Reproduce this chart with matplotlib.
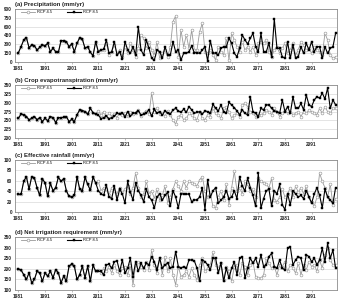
import matplotlib
matplotlib.use("Agg")
import matplotlib.pyplot as plt
import numpy as np

plt.rcParams['font.family'] = ['Liberation Sans', 'DejaVu Sans']

years = list(range(1981, 2101))
xtick_years = [1981, 1991, 2001, 2011, 2021, 2031, 2041, 2051, 2061, 2071, 2081, 2091]

# (a) Precipitation (mm/yr)
hist_precip = [158, 260, 374, 413, 243, 289, 277, 204, 249, 289, 277, 317, 175, 232, 175,
               164, 362, 362, 345, 260, 306, 175, 317, 413, 385, 232, 260, 164, 108, 345]
rcp45_precip = [147, 204, 204, 317, 119, 175, 289, 147, 204, 91, 260, 147, 317, 204, 91,
                232, 458, 402, 232, 345, 204, 119, 345, 62, 147, 204, 91, 260, 685, 780,
                91, 543, 260, 458, 232, 543, 204, 204, 515, 657, 175, 147, 204, 119, 34,
                260, 175, 119, 402, 34, 487, 374, 260, 175, 345, 204, 260, 175, 260, 119,
                317, 345, 317, 374, 175, 91, 204, 260, 147, 232, 317, 147, 204, 317, 119,
                204, 345, 289, 204, 232, 147, 260, 204, 175, 119, 487, 374, 119, 62, 91]
rcp85_precip = [175, 204, 215, 374, 147, 175, 345, 119, 175, 45, 345, 204, 147, 260, 119,
                600, 204, 119, 374, 232, 62, 34, 204, 175, 62, 260, 119, 119, 345, 175,
                204, 34, 147, 147, 175, 272, 158, 158, 147, 204, 260, 17, 362, 158, 147,
                119, 232, 260, 260, 402, 317, 147, 91, 232, 458, 374, 306, 402, 487, 260,
                175, 487, 175, 175, 317, 91, 730, 232, 232, 91, 62, 345, 62, 289, 62,
                91, 260, 147, 317, 204, 345, 175, 260, 260, 62, 260, 147, 232, 260, 487]

# (b) Crop evapotranspiration (mm/yr)
hist_et = [256, 268, 266, 261, 252, 256, 261, 252, 258, 247, 256, 249, 261, 258, 244,
           258, 258, 259, 261, 247, 253, 247, 266, 280, 278, 275, 268, 284, 272, 268]
rcp45_et = [278, 265, 275, 260, 270, 262, 268, 258, 272, 265, 270, 262, 275, 268, 272,
            280, 262, 270, 278, 268, 328, 275, 285, 268, 272, 262, 278, 266, 250, 240,
            261, 266, 252, 256, 270, 266, 256, 252, 275, 256, 252, 266, 261, 284, 270,
            266, 256, 284, 289, 275, 256, 266, 270, 261, 294, 298, 289, 275, 270, 261,
            266, 266, 270, 280, 275, 266, 284, 275, 261, 270, 280, 270, 275, 266, 270,
            275, 261, 275, 270, 280, 275, 270, 266, 284, 270, 289, 275, 270, 284, 284]
rcp85_et = [265, 255, 258, 262, 255, 258, 262, 270, 268, 272, 260, 275, 262, 270, 272,
            278, 265, 268, 272, 280, 262, 282, 270, 275, 265, 278, 270, 268, 280, 284,
            277, 273, 282, 273, 289, 280, 270, 273, 275, 268, 277, 275, 270, 296, 284,
            277, 294, 275, 270, 301, 294, 286, 277, 266, 280, 270, 266, 317, 275, 270,
            261, 284, 280, 294, 294, 284, 277, 275, 270, 308, 275, 289, 270, 317, 284,
            284, 298, 280, 322, 294, 289, 308, 317, 313, 327, 311, 341, 284, 308, 294]

# (c) Effective rainfall (mm/yr)
hist_er = [34, 34, 59, 68, 44, 68, 65, 47, 32, 64, 56, 30, 55, 41, 47,
           67, 59, 64, 41, 30, 29, 32, 68, 44, 41, 67, 53, 42, 67, 56]
rcp45_er = [59, 41, 47, 44, 32, 47, 41, 35, 47, 38, 44, 50, 35, 47, 75,
            47, 29, 35, 59, 35, 41, 26, 44, 23, 32, 50, 17, 29, 44, 59,
            50, 41, 59, 47, 59, 56, 53, 50, 62, 68, 41, 29, 35, 11, 8,
            29, 41, 23, 53, 14, 47, 78, 41, 47, 35, 59, 53, 41, 44, 29,
            65, 59, 56, 53, 47, 65, 23, 20, 29, 44, 29, 35, 47, 29, 50,
            38, 47, 35, 50, 29, 20, 11, 29, 75, 59, 47, 29, 53, 14, 26]
rcp85_er = [41, 35, 32, 52, 29, 26, 50, 23, 44, 35, 17, 59, 38, 23, 56,
            41, 32, 20, 44, 29, 23, 8, 29, 35, 23, 32, 38, 11, 41, 29,
            8, 35, 35, 35, 34, 20, 23, 24, 29, 47, 5, 62, 29, 41, 47,
            17, 23, 29, 41, 26, 29, 41, 26, 68, 50, 41, 65, 47, 32, 11,
            75, 8, 26, 41, 44, 11, 41, 35, 53, 14, 5, 35, 14, 41, 35,
            29, 32, 26, 41, 29, 17, 35, 47, 32, 8, 44, 29, 23, 17, 47]

# (d) Net irrigation requirement (mm/yr)
hist_nir = [200, 194, 173, 150, 181, 134, 150, 189, 181, 142, 181, 166, 189, 158, 197,
            181, 134, 166, 142, 212, 223, 212, 150, 173, 212, 158, 212, 142, 217, 189]
rcp45_nir = [195, 180, 203, 188, 211, 180, 219, 188, 172, 203, 211, 172, 219, 125, 219,
             234, 211, 195, 234, 195, 289, 219, 180, 250, 172, 258, 188, 250, 172, 125,
             211, 164, 172, 188, 164, 203, 172, 148, 219, 250, 188, 203, 219, 281, 219,
             203, 227, 148, 211, 188, 141, 211, 219, 172, 227, 211, 172, 219, 234, 164,
             156, 156, 172, 250, 227, 203, 211, 172, 219, 211, 234, 188, 219, 203, 180,
             227, 172, 219, 195, 234, 211, 219, 188, 242, 203, 266, 297, 242, 219, 219]
rcp85_nir = [188, 188, 172, 219, 222, 203, 234, 238, 188, 242, 180, 203, 250, 164, 234,
             188, 227, 203, 227, 219, 258, 234, 195, 250, 203, 219, 227, 203, 211, 281,
             211, 203, 211, 203, 242, 242, 238, 203, 141, 242, 234, 219, 195, 250, 250,
             180, 227, 141, 203, 156, 203, 234, 172, 250, 258, 156, 203, 250, 227, 250,
             211, 266, 211, 219, 258, 273, 211, 203, 242, 203, 195, 297, 305, 219, 242,
             258, 250, 195, 266, 258, 234, 250, 219, 242, 297, 234, 320, 250, 289, 203]

panels = [
    ("(a) Precipitation (mm/yr)", hist_precip, rcp45_precip, rcp85_precip, (0, 900), 150),
    ("(b) Crop evapotranspiration (mm/yr)", hist_et, rcp45_et, rcp85_et, (200, 350), 25),
    ("(c) Effective rainfall (mm/yr)", hist_er, rcp45_er, rcp85_er, (0, 100), 20),
    ("(d) Net irrigation requirement (mm/yr)", hist_nir, rcp45_nir, rcp85_nir, (100, 350), 50),
]

bottoms = [0.798, 0.550, 0.309, 0.055]
heights = [0.173, 0.173, 0.170, 0.173]

fig = plt.figure(figsize=(3.47, 3.07), dpi=100)
fig.patch.set_facecolor('white')

for (title, hist, f45, f85, ylim, step), b, h in zip(panels, bottoms, heights):
    ax = fig.add_axes([0.043, b, 0.928, h])
    s45 = hist + f45
    s85 = hist + f85
    ax.plot(years, s45, color='#999999', lw=0.6, marker='o', ms=2.0,
            mfc='white', mec='#999999', mew=0.45, label='RCP 4.5', zorder=3)
    ax.plot(years, s85, color='black', lw=0.8, marker='s', ms=1.6,
            mfc='black', mec='black', mew=0.3, label='RCP 8.5', zorder=4)
    ax.set_xlim(1979.7, 2100.5)
    ax.set_ylim(*ylim)
    ax.set_yticks(np.arange(ylim[0], ylim[1] + 0.1, step))
    ax.set_xticks(xtick_years)
    ax.grid(axis='y', color='#d9d9d9', lw=0.5)
    ax.set_axisbelow(True)
    for sp in ax.spines.values():
        sp.set_color('#8c8c8c')
        sp.set_linewidth(0.6)
    ax.tick_params(axis='both', labelsize=3.4, length=0, pad=2, colors='#222222')
    ax.tick_params(axis='x', length=1.2, width=0.4, color='#8c8c8c', pad=1.5)
    for lab in ax.get_xticklabels() + ax.get_yticklabels():
        lab.set_fontweight('bold')
    ax.text(0.0, 1.03, title, transform=ax.transAxes, ha='left', va='bottom',
            fontsize=4.3, fontweight='bold', color='#222222')
    ax.legend(loc='upper left', bbox_to_anchor=(0.01, 1.02), ncol=2, frameon=False,
              fontsize=2.9, handlelength=3.6, columnspacing=3.5, handletextpad=0.6,
              borderaxespad=0.2)

fig.savefig('out.png', dpi=100, facecolor='white')
